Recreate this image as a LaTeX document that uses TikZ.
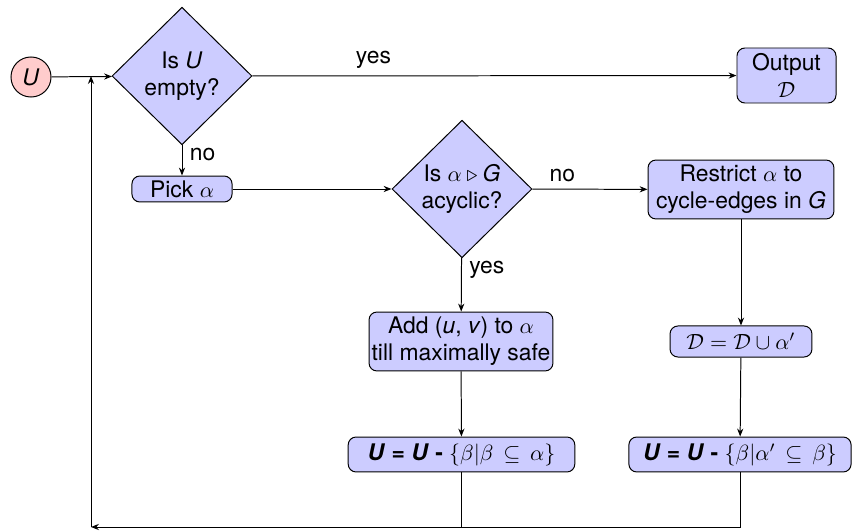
\documentclass[tikz,border=0pt]{standalone}
\usepackage{fontspec}
\setmainfont{TeX Gyre Heros}
\usetikzlibrary{shapes.geometric,arrows.meta}
\begin{document}
\begin{tikzpicture}[x=0.4545pt,y=-0.4545pt,
  font=\fontsize{10.4pt}{12.4pt}\selectfont,
  >={Stealth[length=3.6pt,width=2.8pt]},
  conn/.style={draw,line width=0.45pt},
  boxnode/.style={draw,fill=blue!20,rounded corners=3.6pt,align=center,inner sep=1pt,line width=0.45pt},
  decide/.style={draw,fill=blue!20,diamond,align=center,inner sep=0pt,minimum width=63.6pt,minimum height=62.5pt,line width=0.45pt},
  startnode/.style={draw,fill=red!20,circle,minimum size=18.2pt,inner sep=0pt,line width=0.45pt},
  lbl/.style={font=\fontsize{10.4pt}{12.4pt}\selectfont}
]
\useasboundingbox (0,0) rectangle (852,532);
\node[startnode] (u) at (31,77) {\textit{U}};
\node[decide] (d1) at (182,76) {Is \textit{U}\\empty?};
\node[boxnode,minimum width=45pt,minimum height=25pt] (out) at (786.5,75.5) {Output\\$\mathcal{D}$};
\node[boxnode,minimum width=45.5pt,minimum height=11.8pt] (pick) at (182,189) {Pick $\alpha$};
\node[decide] (d2) at (462,189) {Is $\alpha \triangleright \mbox{\textit{G}}$\\acyclic?};
\node[boxnode,minimum width=84.5pt,minimum height=26.8pt] (restr) at (741,189.5) {Restrict $\alpha$ to\\cycle-edges in \textit{G}};
\node[boxnode,minimum width=83.6pt,minimum height=26.8pt] (add) at (461,341.5) {Add (\textit{u}, \textit{v}) to $\alpha$\\till maximally safe};
\node[boxnode,minimum width=64.5pt,minimum height=14.1pt] (dd) at (741,341.5) {$\mathcal{D} = \mathcal{D} \cup \alpha'$};
\node[boxnode,minimum width=103pt,minimum height=15.9pt] (u1) at (461.5,454.5) {\textbf{\textit{U} = \textit{U} -} $\{\beta|\beta \,\subseteq\, \alpha\}$};
\node[boxnode,minimum width=101pt,minimum height=15.9pt] (u2) at (740,454.5) {\textbf{\textit{U} = \textit{U} -} $\{\beta|\alpha' \,\subseteq\, \beta\}$};
\coordinate (j) at (91,76);
\coordinate (c) at (91,527);
\draw[conn,->] (u) -- (d1);
\draw[conn,->] (d1) -- node[pos=0.25,above,lbl] {yes} (out);
\draw[conn,->] (d1) -- node[pos=0.3,right,lbl] {no} (pick);
\draw[conn,->] (pick) -- (d2);
\draw[conn,->] (d2) -- node[pos=0.26,above,lbl] {no} (restr);
\draw[conn,->] (d2) -- node[pos=0.22,right,lbl] {yes} (add);
\draw[conn,->] (restr) -- (dd);
\draw[conn,->] (add) -- (u1);
\draw[conn,->] (dd) -- (u2);
\draw[conn,->] (u1) |- (c);
\draw[conn] (u2) |- (u1.south |- c);
\draw[conn,->] (c) -- (j);
\end{tikzpicture}
\end{document}
